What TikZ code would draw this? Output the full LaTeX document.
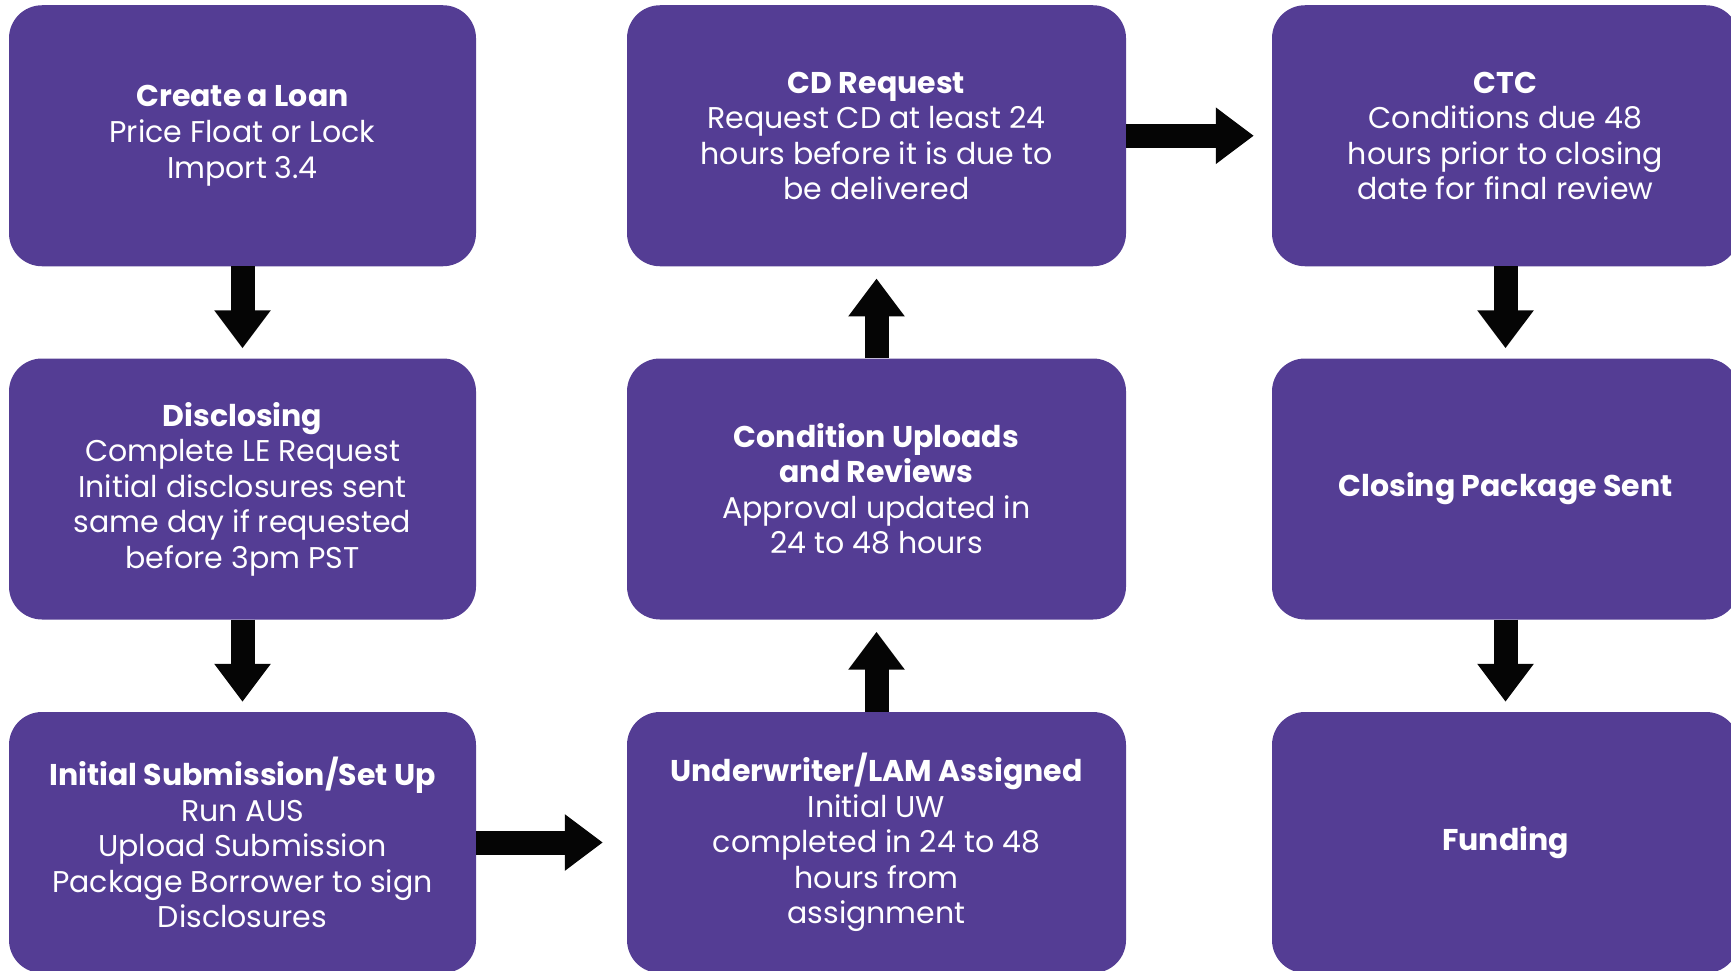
\documentclass[tikz,border=0pt]{standalone}
\usepackage{fontspec}
\setmainfont{Poppins}
\usepackage{tikz}
\usetikzlibrary{arrows.meta}
\definecolor{box}{RGB}{84, 61, 148}
\definecolor{ink}{RGB}{5, 5, 5}

\begin{document}
\begin{tikzpicture}[x=1pt, y=1pt,
  stage/.style={fill=box, rounded corners=33pt, text=white, align=center,
    minimum width=467pt, minimum height=261pt, inner sep=0pt,
    font=\fontsize{30}{35.5}\selectfont},
  flow/.style={draw=ink, line width=24pt,
    -{Triangle[width=54pt, length=38pt]}, shorten >=11pt},
]

  \clip (0, 0) rectangle (1731, -971);

  % left column
  \node[stage] (create) at (242.5, -135.75)
    {\textbf{Create a Loan}\\Price Float or Lock\\Import 3.4};
  \node[stage] (disclose) at (242.5, -489)
    {\textbf{Disclosing}\\Complete LE Request\\Initial disclosures sent\\same day if requested\\before 3pm PST};
  \node[stage] (submit) at (242.5, -842.5)
    {\textbf{Initial Submission/Set Up}\\Run AUS\\Upload Submission\\Package Borrower to sign\\Disclosures};

  % middle column
  \node[stage, minimum width=499pt] (uw) at (876.5, -842.5)
    {\textbf{Underwriter/LAM Assigned}\\Initial UW\\completed in 24 to 48\\hours from\\assignment};
  \node[stage, minimum width=499pt] (cond) at (876.5, -489)
    {\textbf{Condition Uploads}\\\textbf{and Reviews}\\Approval updated in\\24 to 48 hours};
  \node[stage, minimum width=499pt] (cd) at (876.5, -135.75)
    {\textbf{CD Request}\\Request CD at least 24\\hours before it is due to\\be delivered};

  % right column
  \node[stage] (ctc) at (1505.5, -135.75)
    {\textbf{CTC}\\Conditions due 48\\hours prior to closing\\date for final review};
  \node[stage] (closing) at (1505.5, -489) {\textbf{Closing Package Sent}};
  \node[stage] (funding) at (1505.5, -842.5) {\textbf{Funding}};

  %
  \draw[flow, shorten >=10pt] (create) -- (disclose);
  \draw[flow, shorten >=10pt] (disclose) -- (submit);
  \draw[flow, shorten >=24pt] (submit) -- (uw);
  \draw[flow, shorten >=12pt] (uw) -- (cond);
  \draw[flow, shorten >=12pt] (cond) -- (cd);
  \draw[flow, shorten >=18pt] (cd) -- (ctc);
  \draw[flow, shorten >=10pt] (ctc) -- (closing);
  \draw[flow, shorten >=10pt] (closing) -- (funding);

\end{tikzpicture}
\end{document}
